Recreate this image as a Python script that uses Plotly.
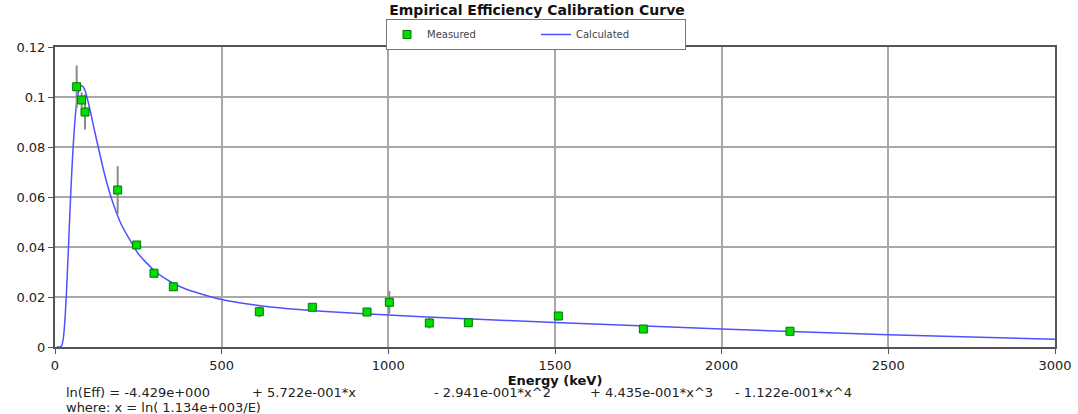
import plotly.graph_objects as go

# Measured points
meas_energy = [65, 80, 90, 188, 245, 297, 355, 613, 772, 936, 1003, 1123, 1240, 1510, 1765, 2205]
meas_eff = [0.1041, 0.0988, 0.0940, 0.0628, 0.0408, 0.0295, 0.0241, 0.0141, 0.0159, 0.0140,
            0.0179, 0.0096, 0.0097, 0.0124, 0.0072, 0.0063]
meas_err = [0.0085, 0.003, 0.007, 0.0095, 0.0008, 0.0008, 0.0008, 0.0022, 0.0008, 0.0008,
            0.0045, 0.0022, 0.0008, 0.0017, 0.0004, 0.0004]

# Calculated curve
calc_energy = [5, 15, 20, 25, 30, 35, 40, 45, 50, 55, 60, 65, 70, 75, 80, 85, 90, 100, 120,
               150, 175, 200, 250, 300, 350, 400, 500, 600, 700, 800, 1000, 1200, 1500, 2000,
               2500, 3000]
calc_eff = [0, 0.00005, 0.00054, 0.0035, 0.0111, 0.0235, 0.0386, 0.0548, 0.0691, 0.0813,
            0.0909, 0.0975, 0.1017, 0.1041, 0.1045, 0.1040, 0.1026, 0.0978, 0.0857, 0.0684,
            0.0572, 0.0487, 0.0373, 0.0303, 0.0258, 0.0228, 0.0190, 0.0168, 0.0153, 0.0143,
            0.0128, 0.0115, 0.0098, 0.0072, 0.0049, 0.0031]

x_ticks = [0, 500, 1000, 1500, 2000, 2500, 3000]
y_ticks = [0, 0.02, 0.04, 0.06, 0.08, 0.1, 0.12]
y_tick_labels = ["0", "0.02", "0.04", "0.06", "0.08", "0.1", "0.12"]

title_text = "Empirical Efficiency Calibration Curve"
x_title = "Energy (keV)"
eq_terms = ["ln(Eff) = -4.429e+000", "+ 5.722e-001*x", "- 2.941e-001*x^2",
            "+ 4.435e-001*x^3", "- 1.122e-001*x^4"]
eq_term_x = [64, 250, 432, 588, 733]
where_text = "where: x = ln( 1.134e+003/E)"

FONT = "DejaVu Sans"
W, H = 1078, 414
L, R, T, B = 55, 23, 47, 67

fig = go.Figure()
fig.add_trace(go.Scatter(
    x=calc_energy, y=calc_eff, mode="lines", name="Calculated",
    line=dict(color="rgb(80,80,255)", width=1.5, shape="spline", smoothing=0.5),
    legendrank=2,
))
fig.add_trace(go.Scatter(
    x=meas_energy, y=meas_eff, mode="markers", name="Measured",
    marker=dict(symbol="square", size=8, color="#00dd00",
                line=dict(color="#007700", width=1)),
    error_y=dict(type="data", array=meas_err, visible=True, color="#8a8a8a",
                 thickness=2, width=0),
    legendrank=1,
))

pw = W - L - R
ph = H - T - B
def px_x(p):
    return (p - L) / pw
def px_y(p):
    return (H - B - p) / ph

annotations = []
for t, xp in zip(eq_terms, eq_term_x):
    annotations.append(dict(text=t, x=px_x(xp), y=px_y(392), xref="paper", yref="paper",
                            xanchor="left", yanchor="middle", showarrow=False,
                            font=dict(family=FONT, size=13, color="#222")))
annotations.append(dict(text=where_text, x=px_x(64), y=px_y(407), xref="paper", yref="paper",
                        xanchor="left", yanchor="middle", showarrow=False,
                        font=dict(family=FONT, size=13, color="#222")))

fig.update_layout(
    width=W, height=H,
    margin=dict(l=L, r=R, t=T, b=B, pad=0, autoexpand=False),
    paper_bgcolor="white", plot_bgcolor="white",
    title=dict(text="<b>" + title_text + "</b>", x=px_x(537), xanchor="center",
               xref="paper", y=1 - 10 / H, yanchor="middle",
               font=dict(family=FONT, size=14, color="#111")),
    legend=dict(orientation="h", x=px_x(536), xanchor="center", y=px_y(19), yanchor="top",
                bordercolor="#777", borderwidth=1, bgcolor="white",
                font=dict(family=FONT, size=10, color="#444"),
                traceorder="normal", entrywidth=104, entrywidthmode="pixels"),
    xaxis=dict(range=[0, 3000], tickvals=x_ticks, showgrid=True, gridcolor="#a8a8a8",
               gridwidth=1.5, showline=True, linecolor="#555", linewidth=2, mirror=True,
               ticks="outside", ticklen=5, tickcolor="#555", zeroline=False,
               tickfont=dict(family=FONT, size=13, color="#222"),
               title=dict(text="<b>" + x_title + "</b>", standoff=0,
                          font=dict(family=FONT, size=13, color="#111"))),
    yaxis=dict(range=[0, 0.12], tickvals=y_ticks, ticktext=y_tick_labels, showgrid=True,
               gridcolor="#a8a8a8", gridwidth=1.5, showline=True, linecolor="#555",
               linewidth=2, mirror=True, ticks="outside", ticklen=5, tickcolor="#555",
               zeroline=False, tickfont=dict(family=FONT, size=13, color="#222")),
    annotations=annotations,
    showlegend=True,
)

fig.write_html("out.html", config={"displayModeBar": False},
               post_script="document.body.style.margin='0';document.body.style.overflow='hidden';")
